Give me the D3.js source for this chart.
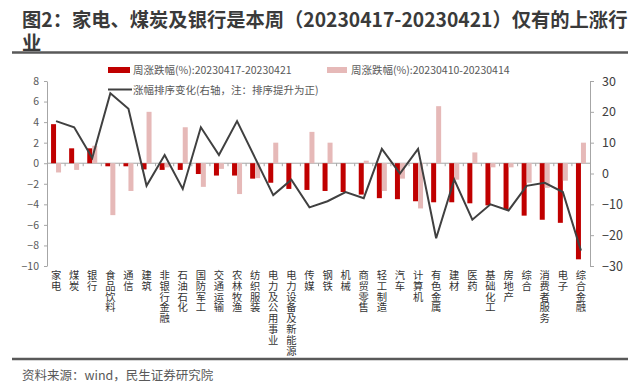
<!DOCTYPE html>
<html>
<head>
<meta charset="utf-8">
<script src="https://cdn.jsdelivr.net/npm/d3@7"></script>
<style>
  body { margin: 0; background: #fff; }
  svg { display: block; }
  text { font-family: "Noto Sans CJK SC", "Noto Sans", sans-serif; }
  .cat { writing-mode: vertical-rl; text-orientation: upright; }
</style>
</head>
<body>
<svg width="640" height="391"></svg>
<script>
// Industries, in the order shown on the x axis.
const categories = ["家电", "煤炭", "银行", "食品饮料", "通信", "建筑", "非银行金融", "石油石化",
  "国防军工", "交通运输", "农林牧渔", "纺织服装", "电力及公用事业", "电力设备及新能源", "传媒",
  "钢铁", "机械", "商贸零售", "轻工制造", "汽车", "计算机", "有色金属", "建材", "医药",
  "基础化工", "房地产", "综合", "消费者服务", "电子", "综合金融"];

// Weekly change (%), 20230417-20230421.
const thisWeek = [3.8, 1.45, 1.45, -0.3, -0.3, -0.6, -0.65, -0.65, -1.05, -1.2, -1.2, -1.5,
  -1.9, -2.5, -2.6, -2.7, -2.8, -3.05, -3.4, -3.5, -3.7, -3.8, -3.8, -3.9, -4.1, -4.5,
  -5.1, -5.5, -5.8, -9.35];

// Weekly change (%), 20230410-20230414.
const lastWeek = [-0.9, -0.65, 1.7, -5.05, -2.7, 5.0, -0.4, 3.5, -2.3, -0.55, -3.0, -1.45,
  2.0, 0, 3.05, 2.0, 0, 0.25, -2.7, -1.5, -4.4, 5.55, -1.6, 1.05, -0.4, -0.4, -1.9, -2.4,
  -1.7, 2.0];

// Change in ranking (right axis, up is positive).
const rankChange = [17, 15, 5, 26, 21, -4, 6, -5, 15, 6, 17, 5, -7, -2, -11, -9, -6, -8,
  8, 0, 8, -21, -2, -15, -10, -12, -4, -3, -6, -25];

const leftTicks = [8, 6, 4, 2, 0, -2, -4, -6, -8, -10];
const rightTicks = [30, 20, 10, 0, -10, -20, -30];

const titleLines = ["图2：家电、煤炭及银行是本周（20230417-20230421）仅有的上涨行", "业"];
const legendLabels = ["周涨跌幅(%):20230417-20230421", "周涨跌幅(%):20230410-20230414",
  "涨幅排序变化(右轴，注：排序提升为正)"];
const sourceText = "资料来源：wind，民生证券研究院";

const darkRed = "#c00000";
const pink = "#e6b9b8";
const lineColor = "#404040";
const axisColor = "#a6a6a6";
const labelColor = "#595959";

const svg = d3.select("svg");

// Plot area.
const plotLeft = 47, plotRight = 590, plotTop = 81, plotBottom = 266;

const x = d3.scaleBand().domain(categories).range([plotLeft, plotRight]);
const yL = d3.scaleLinear().domain([-10, 8]).range([plotBottom, plotTop]);
const yR = d3.scaleLinear().domain([-30, 30]).range([plotBottom, plotTop]);
const barW = 5;

// Title and rules.
svg.append("g").selectAll("text")
  .data(titleLines)
  .join("text")
  .attr("x", 22)
  .attr("y", (d, i) => 27 + i * 22.5)
  .attr("font-size", 19.3)
  .attr("font-weight", "bold")
  .attr("fill", "#3a3a3a")
  .text(d => d);

svg.append("line").attr("x1", 12).attr("x2", 628).attr("y1", 52.5).attr("y2", 52.5)
  .attr("stroke", "#595959").attr("stroke-width", 2.5);
svg.append("line").attr("x1", 12).attr("x2", 628).attr("y1", 359).attr("y2", 359)
  .attr("stroke", "#595959").attr("stroke-width", 2.5);

svg.append("text")
  .attr("x", 22).attr("y", 380)
  .attr("font-size", 12.5)
  .attr("fill", labelColor)
  .text(sourceText);

// Left axis.
const gL = svg.append("g").attr("transform", `translate(${plotLeft},0)`)
  .call(d3.axisLeft(yL).tickValues(leftTicks).tickSize(3).tickSizeOuter(0).tickPadding(5));
gL.select(".domain").attr("stroke", axisColor);
gL.selectAll(".tick line").attr("stroke", axisColor);
gL.selectAll(".tick text").attr("fill", labelColor).attr("font-size", 10.5)
  .attr("font-family", "Liberation Sans, sans-serif");

// Right axis.
const gR = svg.append("g").attr("transform", `translate(${plotRight},0)`)
  .call(d3.axisRight(yR).tickValues(rightTicks).tickSize(4).tickSizeOuter(0).tickPadding(8));
gR.select(".domain").attr("stroke", axisColor);
gR.selectAll(".tick line").attr("stroke", axisColor);
gR.selectAll(".tick text").attr("fill", "#404040").attr("font-size", 12.5)
  .attr("font-family", "Liberation Sans, sans-serif");

// Zero line with small category ticks.
svg.append("line").attr("x1", plotLeft).attr("x2", plotRight)
  .attr("y1", yL(0)).attr("y2", yL(0)).attr("stroke", axisColor);
svg.append("g").selectAll("line")
  .data(categories.slice(1))
  .join("line")
  .attr("x1", d => x(d)).attr("x2", d => x(d))
  .attr("y1", yL(0)).attr("y2", yL(0) + 3)
  .attr("stroke", axisColor);

// Bars.
const mid = d => x(d) + x.bandwidth() / 2;
svg.append("g").selectAll("rect")
  .data(categories)
  .join("rect")
  .attr("x", d => mid(d) - barW)
  .attr("width", barW)
  .attr("y", (d, i) => yL(Math.max(0, thisWeek[i])))
  .attr("height", (d, i) => Math.abs(yL(thisWeek[i]) - yL(0)))
  .attr("fill", darkRed);

svg.append("g").selectAll("rect")
  .data(categories)
  .join("rect")
  .attr("x", d => mid(d))
  .attr("width", barW)
  .attr("y", (d, i) => yL(Math.max(0, lastWeek[i])))
  .attr("height", (d, i) => Math.abs(yL(lastWeek[i]) - yL(0)))
  .attr("fill", pink);

// Ranking line on the right axis.
const line = d3.line()
  .x((d, i) => mid(categories[i]))
  .y(d => yR(d));
svg.append("path")
  .datum(rankChange)
  .attr("d", line)
  .attr("fill", "none")
  .attr("stroke", lineColor)
  .attr("stroke-width", 2);

// Vertical category labels, written top to bottom.
svg.append("g").selectAll("text")
  .data(categories)
  .join("text")
  .attr("class", "cat")
  .attr("x", d => mid(d))
  .attr("y", 270)
  .attr("font-size", 10.3)
  .attr("letter-spacing", 0.5)
  .attr("fill", "#333")
  .text(d => d);

// Legend.
const legend = svg.append("g").attr("font-family", "Liberation Serif, Noto Sans CJK SC, serif");
legend.append("rect").attr("x", 108).attr("y", 67).attr("width", 22).attr("height", 6).attr("fill", darkRed);
legend.append("text").attr("x", 133).attr("y", 74).attr("font-size", 10.5).attr("fill", labelColor)
  .text(legendLabels[0]);
legend.append("rect").attr("x", 327).attr("y", 67).attr("width", 20).attr("height", 6).attr("fill", pink);
legend.append("text").attr("x", 351).attr("y", 74).attr("font-size", 10.5).attr("fill", labelColor)
  .text(legendLabels[1]);
legend.append("line").attr("x1", 108).attr("x2", 132).attr("y1", 89.5).attr("y2", 89.5)
  .attr("stroke", lineColor).attr("stroke-width", 2);
legend.append("text").attr("x", 133).attr("y", 94).attr("font-size", 10.5).attr("fill", labelColor)
  .text(legendLabels[2]);
</script>
</body>
</html>
